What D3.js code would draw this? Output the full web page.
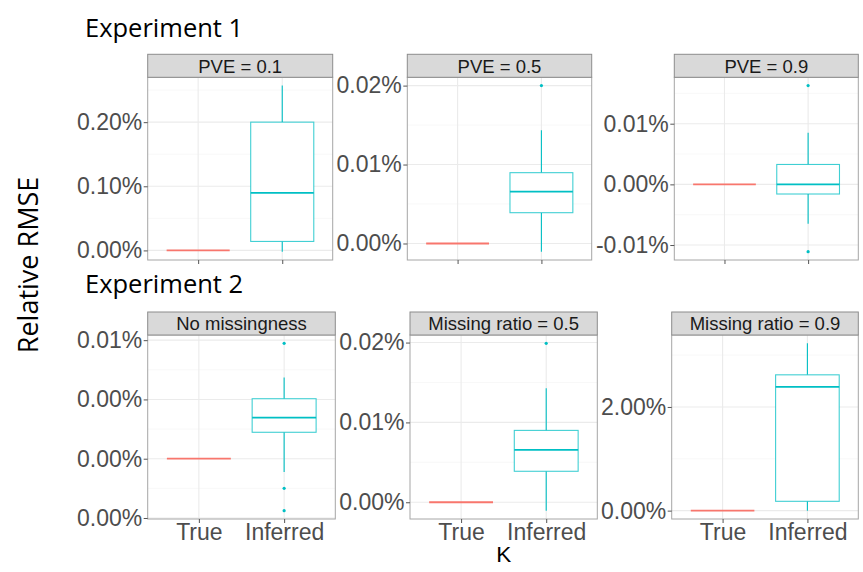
<!DOCTYPE html>
<html>
<head>
<meta charset="utf-8">
<script src="https://cdn.jsdelivr.net/npm/d3@7"></script>
<style>
	body { margin: 0; background: #fff; }
	svg { display: block; }
</style>
</head>
<body>
<svg id="chart" width="863" height="572"></svg>
<script>
(function () {
	var categories = ['True', 'Inferred'];
	var panelNames = ['PVE = 0.1', 'PVE = 0.5', 'PVE = 0.9',
		'No missingness', 'Missing ratio = 0.5', 'Missing ratio = 0.9'];

	// relative RMSE in percent; "True" is always 0
	var trueValues = [0, 0, 0, 0, 0, 0];
	var whiskerLow = [-0.002, -0.00104, -0.0065, -0.00112, -0.00105, 0];
	var q1 = [0.014, 0.0039, -0.00159, 0.00223, 0.00388, 0.18];
	var medians = [0.0896, 0.00658, 0, 0.00346, 0.00655, 2.387];
	var q3 = [0.200, 0.00897, 0.00328, 0.00506, 0.0090, 2.62];
	var whiskerHigh = [0.257, 0.01434, 0.00852, 0.00686, 0.01429, 3.227];
	var outliers = [[], [0.0200], [0.01628, -0.0111], [0.00973, -0.0025, -0.00438], [0.0199], []];

	var yTicks = [[0, 0.1, 0.2], [0, 0.01, 0.02], [-0.01, 0, 0.01],
		[-0.005, 0, 0.005, 0.01], [0, 0.01, 0.02], [0, 2]];
	var yTickLabels = [['0.00%', '0.10%', '0.20%'], ['0.00%', '0.01%', '0.02%'],
		['-0.01%', '0.00%', '0.01%'], ['0.00%', '0.00%', '0.00%', '0.01%'],
		['0.00%', '0.01%', '0.02%'], ['0.00%', '2.00%']];

	var colors = { 'True': '#F8766D', 'Inferred': '#00BFC4' };

	// panel plot areas (strip sits above each)
	var layout = [
		{ x0: 147.7, x1: 332.7, y0: 77.3, y1: 260 },
		{ x0: 407.3, x1: 591.7, y0: 77.3, y1: 260 },
		{ x0: 674.3, x1: 858.3, y0: 77.3, y1: 260 },
		{ x0: 147.7, x1: 335.3, y0: 335, y1: 519 },
		{ x0: 410, x1: 597.3, y0: 335, y1: 519 },
		{ x0: 671.7, x1: 858.3, y0: 335, y1: 519 }
	];
	var stripH = 23;
	var tickFont = '"Liberation Sans", Arial, sans-serif';

	var svg = d3.select('#chart');

	panelNames.forEach(function (name, i) {
		var L = layout[i];
		var boxes = [
			{ cat: 'True', lw: trueValues[i], q1: trueValues[i], med: trueValues[i], q3: trueValues[i], uw: trueValues[i], out: [] },
			{ cat: 'Inferred', lw: whiskerLow[i], q1: q1[i], med: medians[i], q3: q3[i], uw: whiskerHigh[i], out: outliers[i] }
		];
		var all = [trueValues[i], whiskerLow[i], whiskerHigh[i]].concat(outliers[i]);
		var ext = d3.extent(all);
		var pad = (ext[1] - ext[0]) * 0.05;

		var y = d3.scaleLinear().domain([ext[0] - pad, ext[1] + pad]).range([L.y1, L.y0]);
		var x = d3.scalePoint().domain(categories).range([L.x0, L.x1]).padding(0.6);
		var bw = x.step() * 0.75;

		var g = svg.append('g');

		// grid
		var ticks = yTicks[i];
		var step = ticks[1] - ticks[0];
		var minor = [];
		for (var k = -1; k < ticks.length; k++) {
			var v = ticks[0] + step * (k + 0.5);
			if (v > y.domain()[0] && v < y.domain()[1]) minor.push(v);
		}
		g.selectAll('.minor').data(minor).enter().append('line')
			.attr('x1', L.x0).attr('x2', L.x1)
			.attr('y1', d => y(d)).attr('y2', d => y(d))
			.attr('stroke', '#f3f3f3').attr('stroke-width', 0.6);
		g.selectAll('.major').data(ticks).enter().append('line')
			.attr('x1', L.x0).attr('x2', L.x1)
			.attr('y1', d => y(d)).attr('y2', d => y(d))
			.attr('stroke', '#ebebeb').attr('stroke-width', 1.1);
		g.selectAll('.vgrid').data(categories).enter().append('line')
			.attr('x1', d => x(d)).attr('x2', d => x(d))
			.attr('y1', L.y0).attr('y2', L.y1)
			.attr('stroke', '#ebebeb').attr('stroke-width', 1.1);

		// boxes
		var b = g.selectAll('.box').data(boxes).enter().append('g');
		b.append('line')
			.attr('x1', d => x(d.cat)).attr('x2', d => x(d.cat))
			.attr('y1', d => y(d.uw)).attr('y2', d => y(d.q3))
			.attr('stroke', d => colors[d.cat]).attr('stroke-width', 1.1);
		b.append('line')
			.attr('x1', d => x(d.cat)).attr('x2', d => x(d.cat))
			.attr('y1', d => y(d.q1)).attr('y2', d => y(d.lw))
			.attr('stroke', d => colors[d.cat]).attr('stroke-width', 1.1);
		b.append('rect')
			.attr('x', d => x(d.cat) - bw / 2).attr('width', bw)
			.attr('y', d => y(d.q3)).attr('height', d => y(d.q1) - y(d.q3))
			.attr('fill', '#fff').attr('stroke', d => colors[d.cat])
			.attr('stroke-opacity', 0.75).attr('stroke-width', 1.1);
		b.append('line')
			.attr('x1', d => x(d.cat) - bw / 2).attr('x2', d => x(d.cat) + bw / 2)
			.attr('y1', d => y(d.med)).attr('y2', d => y(d.med))
			.attr('stroke', d => colors[d.cat]).attr('stroke-width', 1.8);
		b.selectAll('circle').data(d => d.out.map(v => ({ cat: d.cat, v: v }))).enter()
			.append('circle')
			.attr('cx', d => x(d.cat)).attr('cy', d => y(d.v)).attr('r', 1.6)
			.attr('fill', d => colors[d.cat]);

		// border
		g.append('rect')
			.attr('x', L.x0).attr('y', L.y0)
			.attr('width', L.x1 - L.x0).attr('height', L.y1 - L.y0)
			.attr('fill', 'none').attr('stroke', '#a6a6a6').attr('stroke-width', 1);

		// strip
		g.append('rect')
			.attr('x', L.x0).attr('y', L.y0 - stripH)
			.attr('width', L.x1 - L.x0).attr('height', stripH)
			.attr('fill', '#d9d9d9').attr('stroke', '#8c8c8c').attr('stroke-width', 1);
		g.append('text')
			.attr('x', (L.x0 + L.x1) / 2).attr('y', L.y0 - 4.8)
			.attr('text-anchor', 'middle')
			.style('font-family', tickFont).style('font-size', '18.5px')
			.attr('fill', '#1a1a1a')
			.text(name);

		// axes
		var yAxis = d3.axisLeft(y).tickValues(ticks).tickSize(4).tickPadding(1.5)
			.tickFormat((d, j) => yTickLabels[i][j]);
		var ya = g.append('g').attr('transform', 'translate(' + L.x0 + ',0)').call(yAxis);
		var xAxis = d3.axisBottom(x).tickSize(4).tickPadding(0.5)
			.tickFormat(i >= 3 ? (d => d) : (d => ''));
		var xa = g.append('g').attr('transform', 'translate(0,' + L.y1 + ')').call(xAxis);
		[ya, xa].forEach(function (a) {
			a.select('.domain').remove();
			a.selectAll('line').attr('stroke', '#555');
			a.selectAll('text')
				.style('font-family', tickFont).style('font-size', '23px')
				.attr('fill', '#4d4d4d');
		});
	});

	var titleFont = '"Open Sans", "Noto Sans", sans-serif';
	svg.append('text').attr('x', 85).attr('y', 36.5)
		.style('font-family', titleFont).style('font-size', '25.5px').attr('fill', '#000')
		.text('Experiment 1');
	svg.append('text').attr('x', 85).attr('y', 293)
		.style('font-family', titleFont).style('font-size', '25.5px').attr('fill', '#000')
		.text('Experiment 2');
	svg.append('text')
		.attr('transform', 'translate(38,265) rotate(-90)')
		.attr('text-anchor', 'middle')
		.style('font-family', titleFont).style('font-size', '27px').attr('fill', '#000')
		.text('Relative RMSE');
	svg.append('text').attr('x', 503.7).attr('y', 562)
		.attr('text-anchor', 'middle')
		.style('font-family', tickFont).style('font-size', '22.5px').attr('fill', '#000')
		.text('K');
}());
</script>
</body>
</html>
